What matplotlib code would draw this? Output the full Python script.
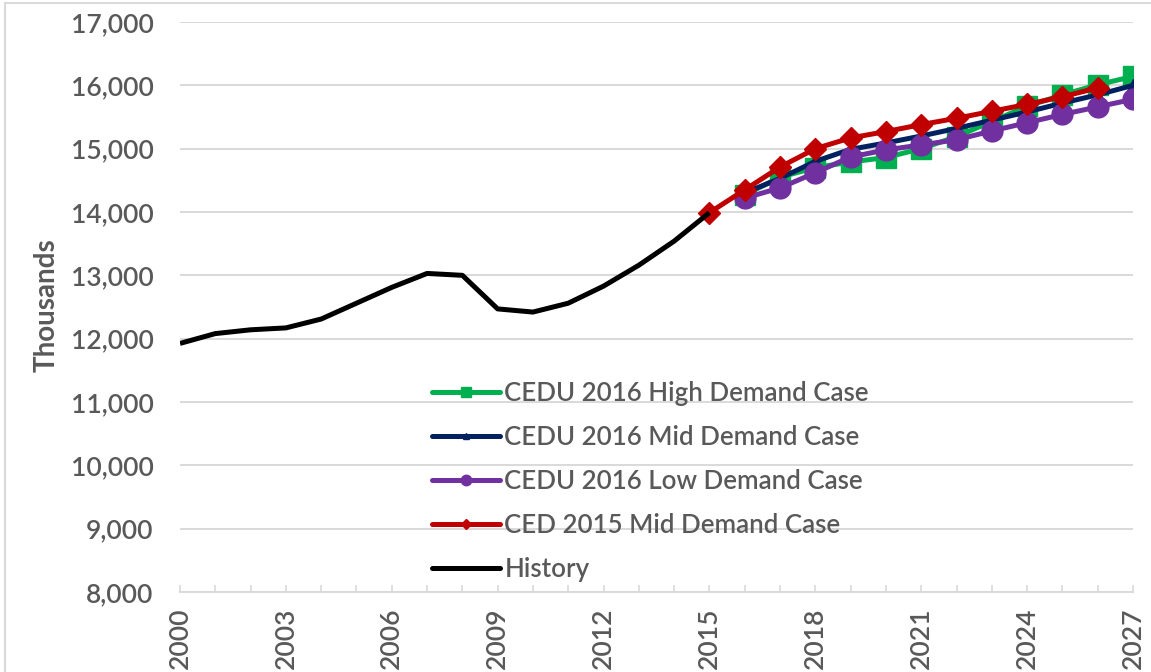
import matplotlib
matplotlib.use("Agg")
import matplotlib.pyplot as plt
from matplotlib.patches import Rectangle

plt.rcParams['font.family'] = ['Lato', 'DejaVu Sans']

hist_years = list(range(2000, 2016))
history = [11925, 12080, 12140, 12170, 12310, 12560, 12810, 13030, 13000,
           12470, 12420, 12560, 12830, 13160, 13540, 13990]

fc_years = list(range(2016, 2028))
high = [14270, 14550, 14700, 14790, 14860, 15000, 15190, 15430, 15670, 15850, 16010, 16140]
mid = [14300, 14530, 14800, 14990, 15090, 15200, 15320, 15450, 15580, 15720, 15850, 16000]
low = [14220, 14380, 14620, 14870, 14980, 15060, 15140, 15280, 15410, 15540, 15660, 15780]

ced_years = list(range(2015, 2027))
ced2015 = [13990, 14350, 14710, 15000, 15170, 15270, 15380, 15480, 15590, 15700, 15820, 15960]

labels = ["CEDU 2016 High Demand Case", "CEDU 2016 Mid Demand Case",
          "CEDU 2016 Low Demand Case", "CED 2015 Mid Demand Case", "History"]

W, H = 1151, 672
fig = plt.figure(figsize=(W / 100, H / 100), dpi=100)
ax = fig.add_axes([180 / W, 1 - 592 / H, (1133 - 180) / W, (592 - 22) / H])

lw = 3.6
ax.plot(fc_years, high, color='#00b050', lw=lw, marker='s', ms=14, zorder=3, label=labels[0])
ax.plot(fc_years, mid, color='#002060', lw=lw, marker='^', ms=9, zorder=4, label=labels[1])
ax.plot(fc_years, low, color='#7030a0', lw=lw, marker='o', ms=15, zorder=5, label=labels[2])
ax.plot(ced_years, ced2015, color='#c00000', lw=lw, marker='D', ms=11, zorder=6, label=labels[3])
ax.plot(hist_years, history, color='#000000', lw=lw, zorder=7, label=labels[4],
        solid_capstyle='butt')

ax.set_xlim(2000, 2027)
ax.set_ylim(8000, 17000)
ax.set_yticks(range(8000, 17001, 1000))
ax.set_yticklabels([f"{v:,}" for v in range(8000, 17001, 1000)])
ax.set_xticks(range(2000, 2028))
ax.set_xticklabels([str(y) if (y - 2000) % 3 == 0 else '' for y in range(2000, 2028)],
                   rotation=90)

ax.grid(axis='y', color='#d9d9d9', lw=1.4, zorder=0)
ax.set_axisbelow(True)
for s in ['left', 'right', 'top']:
    ax.spines[s].set_visible(False)
ax.spines['bottom'].set_color('#d9d9d9')
ax.spines['bottom'].set_linewidth(1.4)
ax.tick_params(axis='y', length=0, pad=19, labelsize=19, labelcolor='#595959')
ax.tick_params(axis='x', direction='in', length=5, width=1.2, color='#d9d9d9',
               pad=11, labelsize=19, labelcolor='#595959')
for t in ax.get_xticklabels() + ax.get_yticklabels():
    t.set_fontweight('semibold')

fig.text(47 / W, 1 - 305 / H, "Thousands", rotation=90, ha='center', va='center',
         fontsize=20, fontweight='bold', color='#595959')

leg = ax.legend(loc='upper left', bbox_to_anchor=(432 / W, 1 - 381 / H),
                bbox_transform=fig.transFigure, frameon=False,
                prop={'size': 18.6, 'weight': 'semibold'},
                handlelength=2.65, handletextpad=0.15, labelspacing=0.74,
                borderpad=0, borderaxespad=0, markerscale=0.5, numpoints=1)
for t in leg.get_texts():
    t.set_color('#595959')
for h in leg.legend_handles:
    h.set_solid_capstyle('round')

fig.patches.append(Rectangle((5 / W, -0.1), 1.2, (H - 3) / H + 0.1,
                             transform=fig.transFigure, fill=False,
                             edgecolor='#d9d9d9', lw=1.5))

fig.savefig("out.png", dpi=100)
